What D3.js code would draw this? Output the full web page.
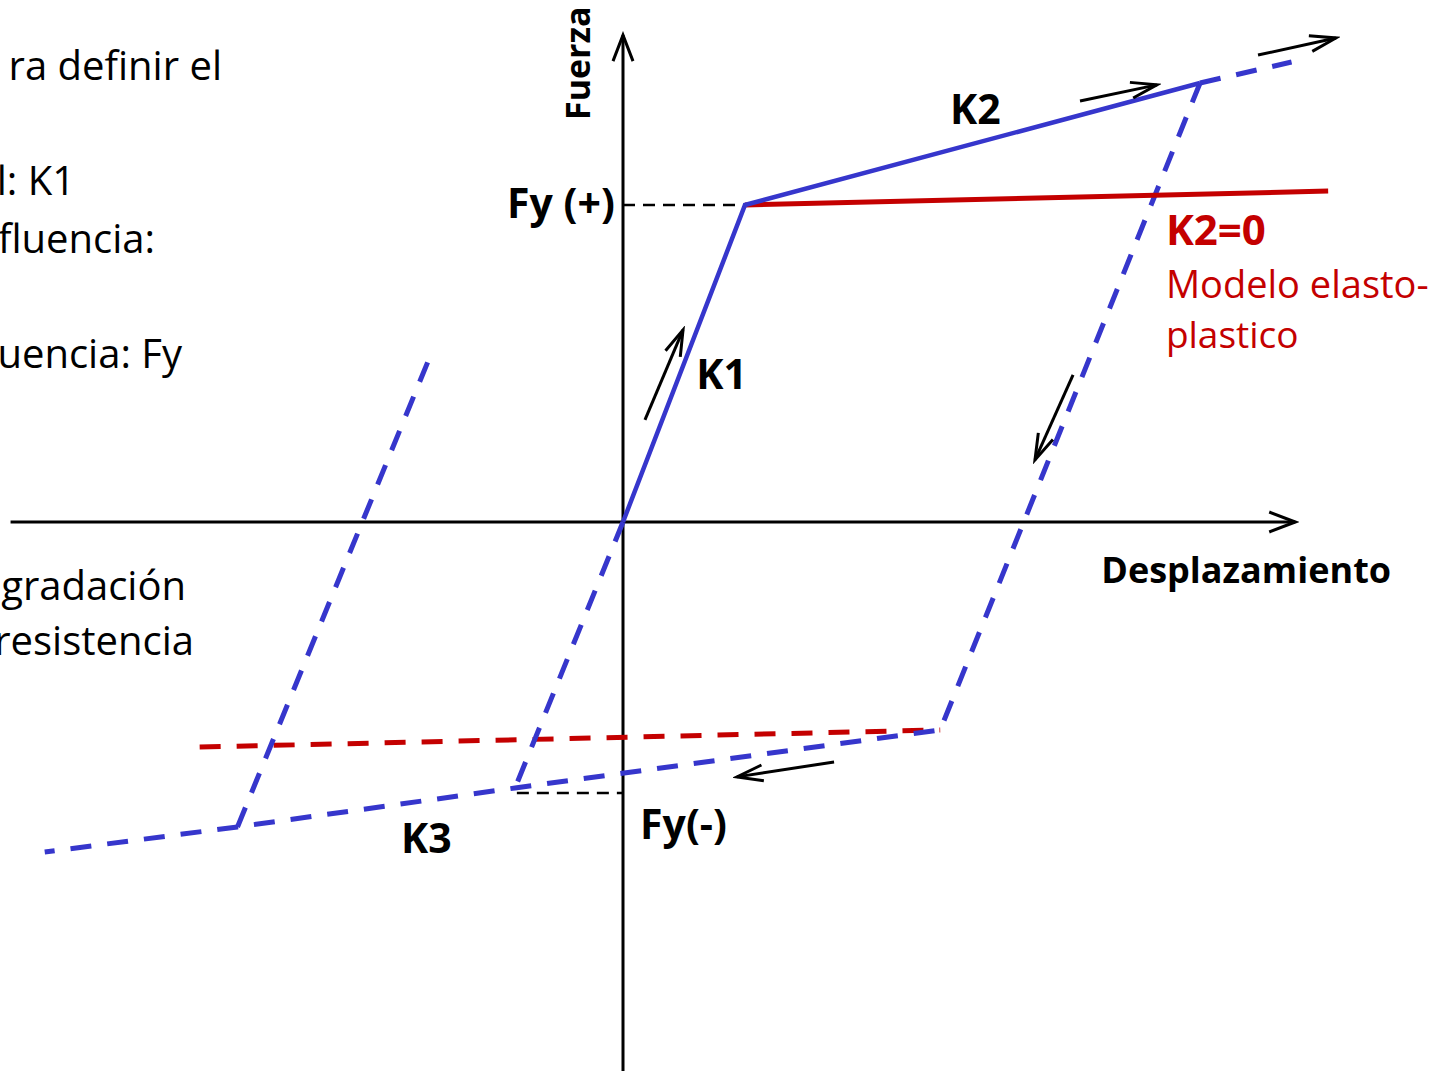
<!DOCTYPE html>
<html>
<head>
<meta charset="utf-8">
<script src="https://cdn.jsdelivr.net/npm/d3@7"></script>
<style>
  body { margin: 0; background: #fff; }
  svg { display: block; }
  text { font-family: "Open Sans", "Noto Sans", sans-serif; font-variant-ligatures: none; }
</style>
</head>
<body>
<div id="chart"></div>
<script>
const width = 1439;
const height = 1071;

// displacement in units of yield displacement, force in units of Fy
const axisX = [-5.02, 5.51];
const axisY = [-1.732, 1.536];

const loadPath = [[0, 0], [1, 1], [4.73, 1.385]];
const loadExt = [[4.73, 1.385], [5.48, 1.451]];
const unloadPath = [[4.73, 1.385], [2.60, -0.656], [-0.885, -0.839], [-3.16, -0.962], [-4.74, -1.041]];
const reloadNeg = [[0, 0], [-0.885, -0.839]];
const reloadLeft = [[-3.16, -0.962], [-1.60, 0.505]];

const elastoPlastic = [[1, 1], [5.78, 1.044]];
const elastoPlasticNeg = [[-3.47, -0.710], [2.60, -0.656]];

const fyPosGuide = [[0, 1], [1, 1]];
const fyNegGuide = [[-0.87, -0.855], [0, -0.855]];

const dirArrows = [
  [[0.18, 0.322], [0.492, 0.606]],
  [[3.746, 1.328], [4.377, 1.379]],
  [[5.205, 1.473], [5.844, 1.527]],
  [[3.689, 0.464], [3.377, 0.196]],
  [[1.730, -0.757], [0.934, -0.804]]
];

const labels = ["Fy (+)", "K1", "K2", "K3", "Fy(-)", "Desplazamiento"];
const labelPos = [[-0.95, 0.96], [0.6, 0.42], [2.68, 1.254], [-1.82, -1.043], [0.14, -1.0], [3.92, -0.192]];

const redLabels = ["K2=0", "Modelo elasto-", "plastico"];
const redPos = [[4.45, 0.874], [4.45, 0.707], [4.45, 0.549]];

const sideText = ["ra definir el", "l: K1", "fluencia:", "uencia: Fy", "gradación", "resistencia"];
const sideY = [1.395, 1.032, 0.849, 0.486, -0.246, -0.42];

const x = d3.scaleLinear().domain([0, 1]).range([623, 745]);
const y = d3.scaleLinear().domain([0, 1]).range([522, 205]);

const blue = "#3636cc";
const red = "#c40000";

const svg = d3.select("#chart").append("svg")
  .attr("width", width)
  .attr("height", height);

const defs = svg.append("defs");
function chevron(id, len, half, w) {
  defs.append("marker")
    .attr("id", id)
    .attr("markerUnits", "userSpaceOnUse")
    .attr("viewBox", `${-len - 4} ${-half - 4} ${len + 8} ${2 * half + 8}`)
    .attr("markerWidth", len + 8)
    .attr("markerHeight", 2 * half + 8)
    .attr("refX", 0).attr("refY", 0)
    .attr("orient", "auto")
    .append("path")
    .attr("d", `M${-len},${-half} L0,0 L${-len},${half}`)
    .attr("fill", "none")
    .attr("stroke", "#000")
    .attr("stroke-width", w)
    .attr("stroke-linejoin", "miter");
}
chevron("axisHead", 26, 10, 3);
chevron("smallHead", 26, 8, 3);

const line = d3.line().x(d => x(d[0])).y(d => y(d[1]));

// axes
svg.append("path")
  .attr("d", line([[axisX[0], 0], [axisX[1], 0]]))
  .attr("stroke", "#000").attr("stroke-width", 3).attr("fill", "none")
  .attr("marker-end", "url(#axisHead)");
svg.append("path")
  .attr("d", line([[0, axisY[0]], [0, axisY[1]]]))
  .attr("stroke", "#000").attr("stroke-width", 3).attr("fill", "none")
  .attr("marker-end", "url(#axisHead)");

// guides
[fyPosGuide, fyNegGuide].forEach(g => {
  svg.append("path")
    .attr("d", line(g))
    .attr("stroke", "#000").attr("stroke-width", 2.5).attr("fill", "none")
    .attr("stroke-dasharray", "12,8");
});

// red elasto-plastic
svg.append("path")
  .attr("d", line(elastoPlasticNeg))
  .attr("stroke", red).attr("stroke-width", 5).attr("fill", "none")
  .attr("stroke-dasharray", "21,16");

// blue dashed cycle
[loadExt, unloadPath, reloadNeg, reloadLeft].forEach(p => {
  svg.append("path")
    .attr("d", line(p))
    .attr("stroke", blue).attr("stroke-width", 5).attr("fill", "none")
    .attr("stroke-linejoin", "miter")
    .attr("stroke-dasharray", "21,16");
});

svg.append("path")
  .attr("d", line(elastoPlastic))
  .attr("stroke", red).attr("stroke-width", 5).attr("fill", "none");

svg.append("path")
  .attr("d", line(loadPath))
  .attr("stroke", blue).attr("stroke-width", 4.5).attr("fill", "none")
  .attr("stroke-linejoin", "miter");

// direction arrows
dirArrows.forEach(a => {
  svg.append("path")
    .attr("d", line(a))
    .attr("stroke", "#000").attr("stroke-width", 3).attr("fill", "none")
    .attr("marker-end", "url(#smallHead)");
});

// labels
svg.selectAll("text.lbl")
  .data(labels)
  .enter().append("text")
  .attr("class", "lbl")
  .attr("x", (d, i) => x(labelPos[i][0]))
  .attr("y", (d, i) => y(labelPos[i][1]))
  .attr("font-size", d => d === "Desplazamiento" ? 36 : 41)
  .attr("font-weight", "bold")
  .attr("fill", "#000")
  .text(d => d);

svg.append("text")
  .attr("transform", `translate(590,120) rotate(-90)`)
  .attr("font-size", 34)
  .attr("font-weight", "bold")
  .text("Fuerza");

svg.selectAll("text.red")
  .data(redLabels)
  .enter().append("text")
  .attr("class", "red")
  .attr("x", (d, i) => x(redPos[i][0]))
  .attr("y", (d, i) => y(redPos[i][1]))
  .attr("font-size", (d, i) => [42, 38, 37][i])
  .attr("font-weight", (d, i) => i === 0 ? "bold" : "normal")
  .attr("fill", red)
  .text(d => d);

const sideRight = [222, 75, 155, 182, 186, 194];
svg.selectAll("text.side")
  .data(sideText)
  .enter().append("text")
  .attr("class", "side")
  .attr("x", (d, i) => sideRight[i])
  .attr("y", (d, i) => y(sideY[i]))
  .attr("text-anchor", "end")
  .attr("font-size", 40)
  .attr("fill", "#000")
  .text(d => d);
</script>
</body>
</html>
